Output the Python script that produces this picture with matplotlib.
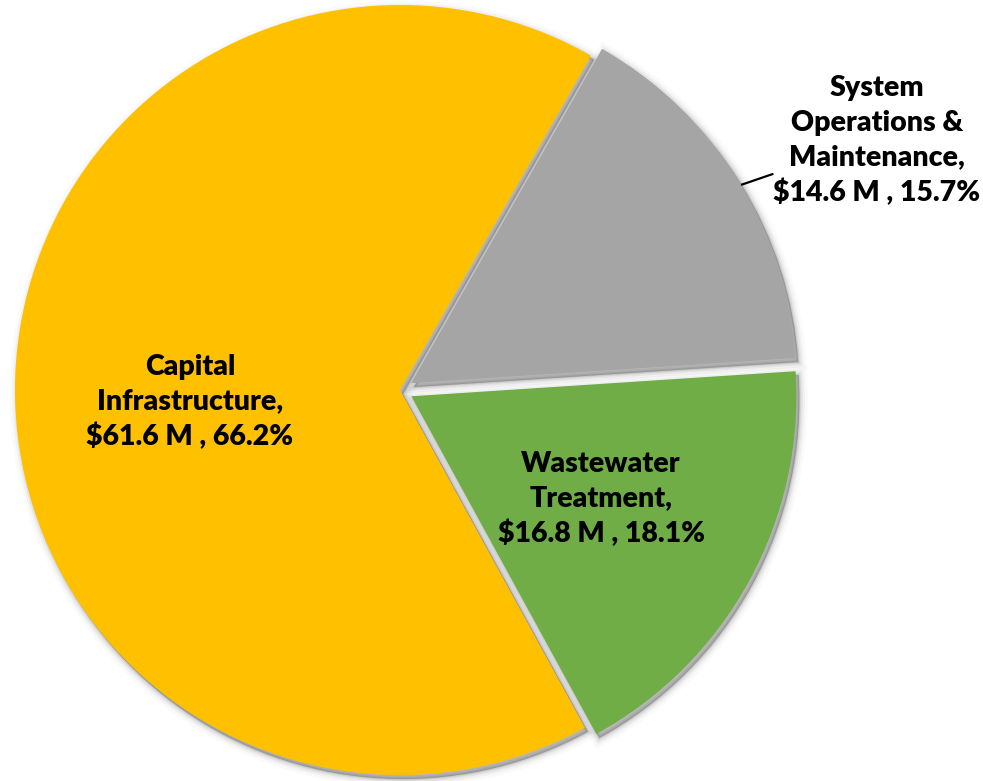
import matplotlib
matplotlib.use("Agg")
import matplotlib.pyplot as plt
from matplotlib.patches import Wedge
import numpy as np

categories = ["Capital\nInfrastructure", "System\nOperations &\nMaintenance", "Wastewater\nTreatment"]
amounts = [61.6, 14.6, 16.8]  # $ millions
colors = ["#FFC000", "#A5A5A5", "#70AD47"]

W, H = 983, 781
CENTER = (400, 390)
RADIUS = 385
explode = [0, 13, 13]  # pie() offsets in data units (pixels here)

plt.rcParams["font.family"] = ["Lato", "DejaVu Sans"]

fig = plt.figure(figsize=(W / 100, H / 100), dpi=100)
ax = fig.add_axes([0, 0, 1, 1])

total = sum(amounts)
pcts = [a / total * 100 for a in amounts]

wedges, _ = ax.pie(
    amounts,
    colors=colors,
    explode=explode,
    startangle=90 - 151.3,
    counterclock=False,
    center=(CENTER[0], H - CENTER[1]),
    radius=RADIUS,
    wedgeprops={"linewidth": 0},
    frame=True,
)
ax.set_xlim(0, W)
ax.set_ylim(0, H)
ax.set_aspect("equal")
ax.axis("off")

# soft drop shadow below each slice
for w in wedges:
    cx, cy = w.center
    for lw, a in [(12, 0.02), (8, 0.035), (5, 0.05), (2.5, 0.07), (1, 0.08)]:
        s = Wedge((cx + 3, cy - 4), w.r, w.theta1, w.theta2, facecolor="black",
                  edgecolor="black", linewidth=lw, alpha=a, zorder=0.5)
        ax.add_patch(s)
    w.set_zorder(2)

labels = [f"{c},\n${a:.1f} M , {p:.1f}%" for c, a, p in zip(categories, amounts, pcts)]
txt_kw = dict(fontsize=20.5, fontweight="heavy", ha="center", va="center",
              linespacing=1.4, color="black", zorder=5)

ax.text(190, H - 402, labels[0], **txt_kw)
ax.text(601, H - 499, labels[2], **txt_kw)
t_ops = ax.text(877, H - 141, labels[1], **txt_kw)

# leader line from the grey slice edge to the outside label
w = wedges[1]
mid = np.deg2rad((w.theta1 + w.theta2) / 2 - 1.0)
edge = (w.center[0] + w.r * np.cos(mid), w.center[1] + w.r * np.sin(mid))
fig.canvas.draw()
bb = t_ops.get_window_extent().transformed(ax.transData.inverted())
ax.plot([edge[0], bb.x0], [edge[1], bb.y0 + 0.25 * bb.height],
        color="black", lw=1.6, solid_capstyle="butt", zorder=5)

fig.savefig("out.png", dpi=100)
